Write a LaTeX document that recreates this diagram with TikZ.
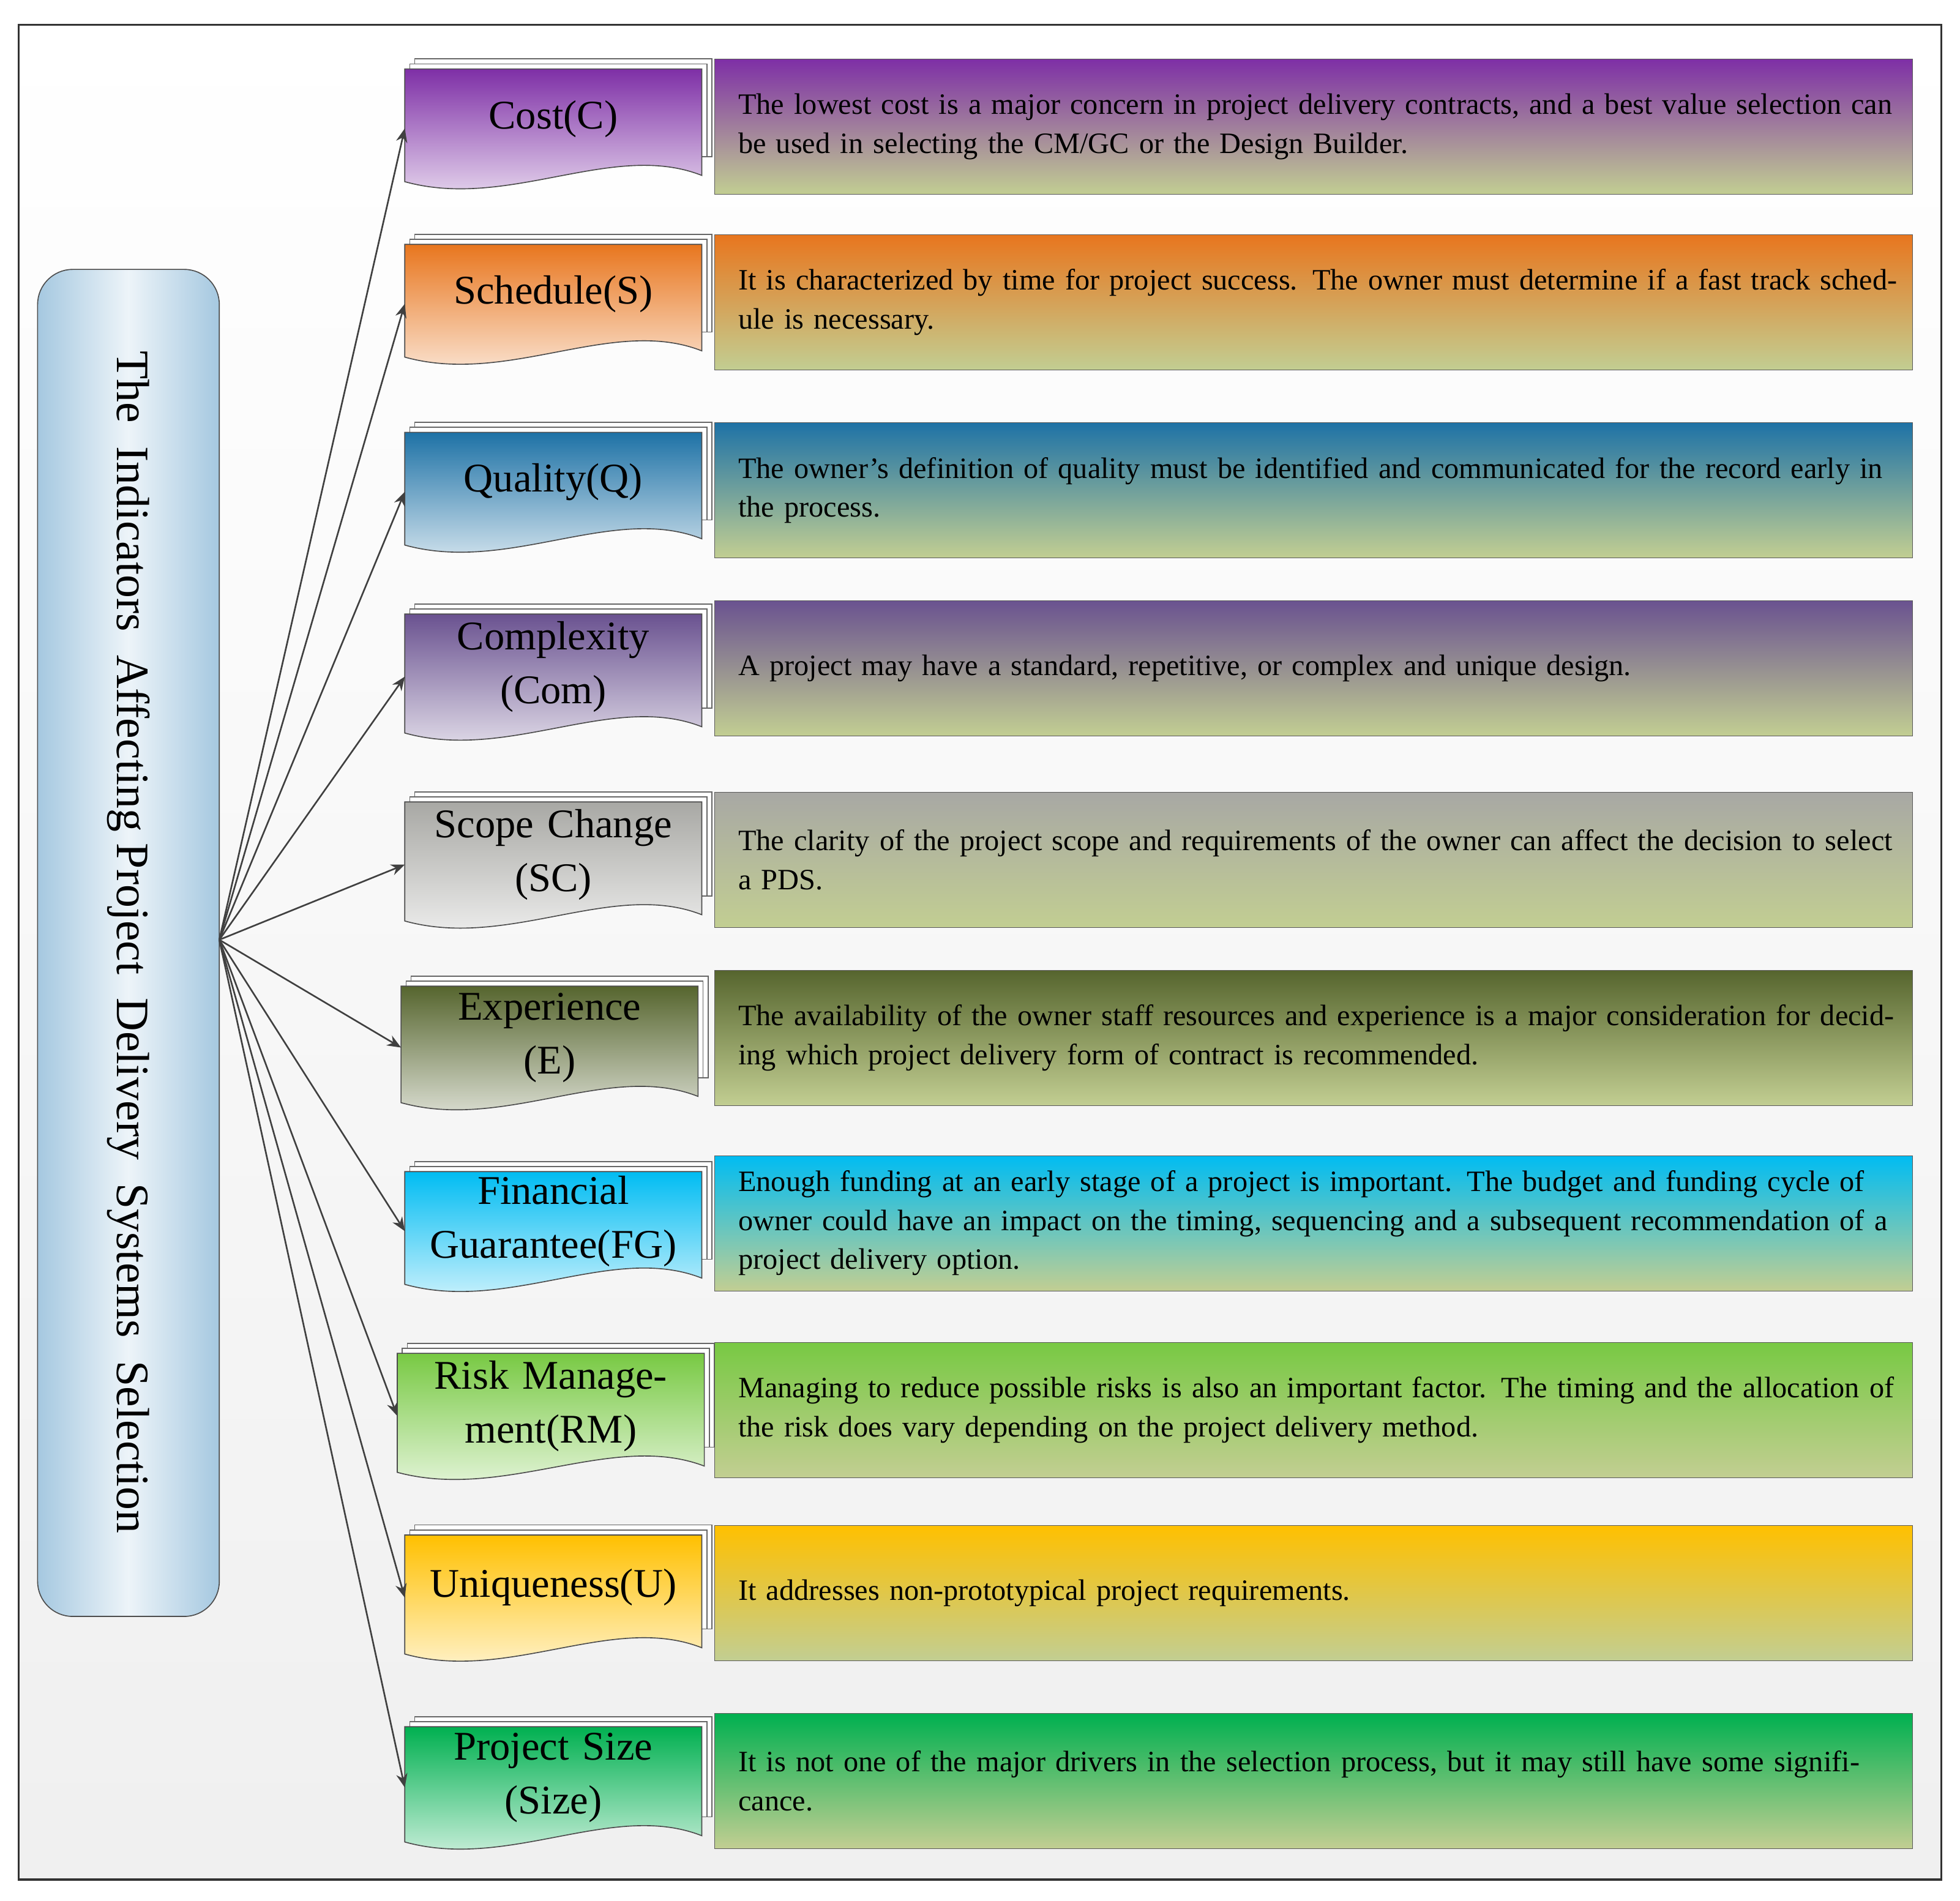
\documentclass[tikz,border=0pt]{standalone}
\usepackage{fontspec}
\setmainfont{Liberation Serif}
\usetikzlibrary{arrows.meta}
\definecolor{descbot}{HTML}{C2CE92}
\definecolor{cC}{HTML}{7E2FA6}
\definecolor{cS}{HTML}{E8761E}
\definecolor{cQ}{HTML}{1E72A6}
\definecolor{cCom}{HTML}{6A5290}
\definecolor{cSC}{HTML}{A8A8A4}
\definecolor{cE}{HTML}{56652E}
\definecolor{cFG}{HTML}{00BCF2}
\definecolor{cRM}{HTML}{78C943}
\definecolor{cU}{HTML}{FFC000}
\definecolor{cSize}{HTML}{00B050}
\definecolor{lbx}{HTML}{A5C8E0}
\tikzset{
 doctext/.style={align=center,text width=240pt,font=\fontsize{32.5}{43}\selectfont,inner sep=0pt},
 descbox/.style={draw=gray!70!black,bottom color=descbot,minimum width=956pt,minimum height=108pt,text width=938pt,align=left,anchor=north west,inner sep=0pt,font=\fontsize{23.6}{31}\selectfont},
 arr/.style={draw=black!75,line width=1.3pt,-{Stealth[length=11pt,width=9pt]}},
 shadowpg/.style={fill=white,draw=gray!80!black,line width=0.8pt}
}
\newcommand\pdoc[7]{%
 \foreach \d in {8,4}{\filldraw[shadowpg] ({#2+\d},{#3-\d}) rectangle ({#4+\d},{#5-25});}
 \shadedraw[top color=#6,bottom color=#6!12,draw=gray!60!black,line width=0.8pt] (#2,#3) -- (#4,#3) -- (#4,{#5-10}) .. controls ({#4-0.3*(#4-#2)},{#5-38}) and ({#2+0.35*(#4-#2)},{#5+18}) .. (#2,{#5-5}) -- cycle;
 \node[doctext] (#1) at ({(#2+#4)/2},{#3+0.42*(#5-#3)}) {#7};
 \coordinate (#1-in) at (#2,{#3+0.5*(#5-#3)});
}
\newcommand\dtext[1]{\hspace*{10pt}\parbox{928pt}{#1}}
\begin{document}
\begin{tikzpicture}[x=1pt,y=-1pt]
\useasboundingbox (0,0) rectangle (1564,1517);
\shadedraw[top color=white,bottom color=gray!12,draw=gray!40!black,line width=1.5pt] (15,20) rectangle (1549,1500);
\shadedraw[left color=lbx,right color=lbx,middle color=lbx!20,draw=gray!60!black,rounded corners=28pt,line width=0.8pt] (30,215) rectangle (175,1290);
\node[rotate=-90,font=\fontsize{37}{44}\selectfont] (root) at (102.5,752) {The\ \ Indicators\ \ Affecting\ Project\ \ Delivery\ \ Systems\ \ Selection};
\coordinate (hub) at (175,750);
\pdoc{c}{323}{55}{560}{150}{cC}{Cost(C)}
\pdoc{s}{323}{195}{560}{290}{cS}{Schedule(S)}
\pdoc{q}{323}{345}{560}{440}{cQ}{Quality(Q)}
\pdoc{com}{323}{490}{560}{590}{cCom}{Complexity\\(Com)}
\pdoc{sc}{323}{640}{560}{740}{cSC}{Scope Change\\(SC)}
\pdoc{e}{320}{787}{557}{885}{cE}{Experience\\(E)}
\pdoc{fg}{323}{935}{560}{1030}{cFG}{Financial\\Guarantee(FG)}
\pdoc{rm}{317}{1080}{562}{1180}{cRM}{Risk Manage-\\ment(RM)}
\pdoc{u}{323}{1225}{560}{1325}{cU}{Uniqueness(U)}
\pdoc{size}{323}{1378}{560}{1475}{cSize}{Project Size\\(Size)}
\node[descbox,top color=cC] (cd) at (570,47) {\dtext{The lowest cost is a major concern in project delivery contracts, and a best value selection can be used in selecting the CM/GC or the Design Builder.}};
\node[descbox,top color=cS] (sd) at (570,187) {\dtext{It is characterized by time for project success. The owner must determine if a fast track schedule is necessary.}};
\node[descbox,top color=cQ] (qd) at (570,337) {\dtext{The owner’s definition of quality must be identified and communicated for the record early in the process.}};
\node[descbox,top color=cCom] (comd) at (570,479) {\dtext{A project may have a standard, repetitive, or complex and unique design.}};
\node[descbox,top color=cSC] (scd) at (570,632) {\dtext{The clarity of the project scope and requirements of the owner can affect the decision to select a PDS.}};
\node[descbox,top color=cE] (ed) at (570,774) {\dtext{The availability of the owner staff resources and experience is a major consideration for deciding which project delivery form of contract is recommended.}};
\node[descbox,top color=cFG] (fgd) at (570,922) {\dtext{Enough funding at an early stage of a project is important. The budget and funding cycle of owner could have an impact on the timing, sequencing and a subsequent recommendation of a project delivery option.}};
\node[descbox,top color=cRM] (rmd) at (570,1071) {\dtext{Managing to reduce possible risks is also an important factor. The timing and the allocation of the risk does vary depending on the project delivery method.}};
\node[descbox,top color=cU] (ud) at (570,1217) {\dtext{It addresses non-prototypical project requirements.}};
\node[descbox,top color=cSize] (sized) at (570,1367) {\dtext{It is not one of the major drivers in the selection process, but it may still have some significance.}};
\foreach \n in {c,s,q,com,sc,e,fg,rm,u,size}{\draw[arr] (hub) -- (\n-in);}
\end{tikzpicture}
\end{document}
